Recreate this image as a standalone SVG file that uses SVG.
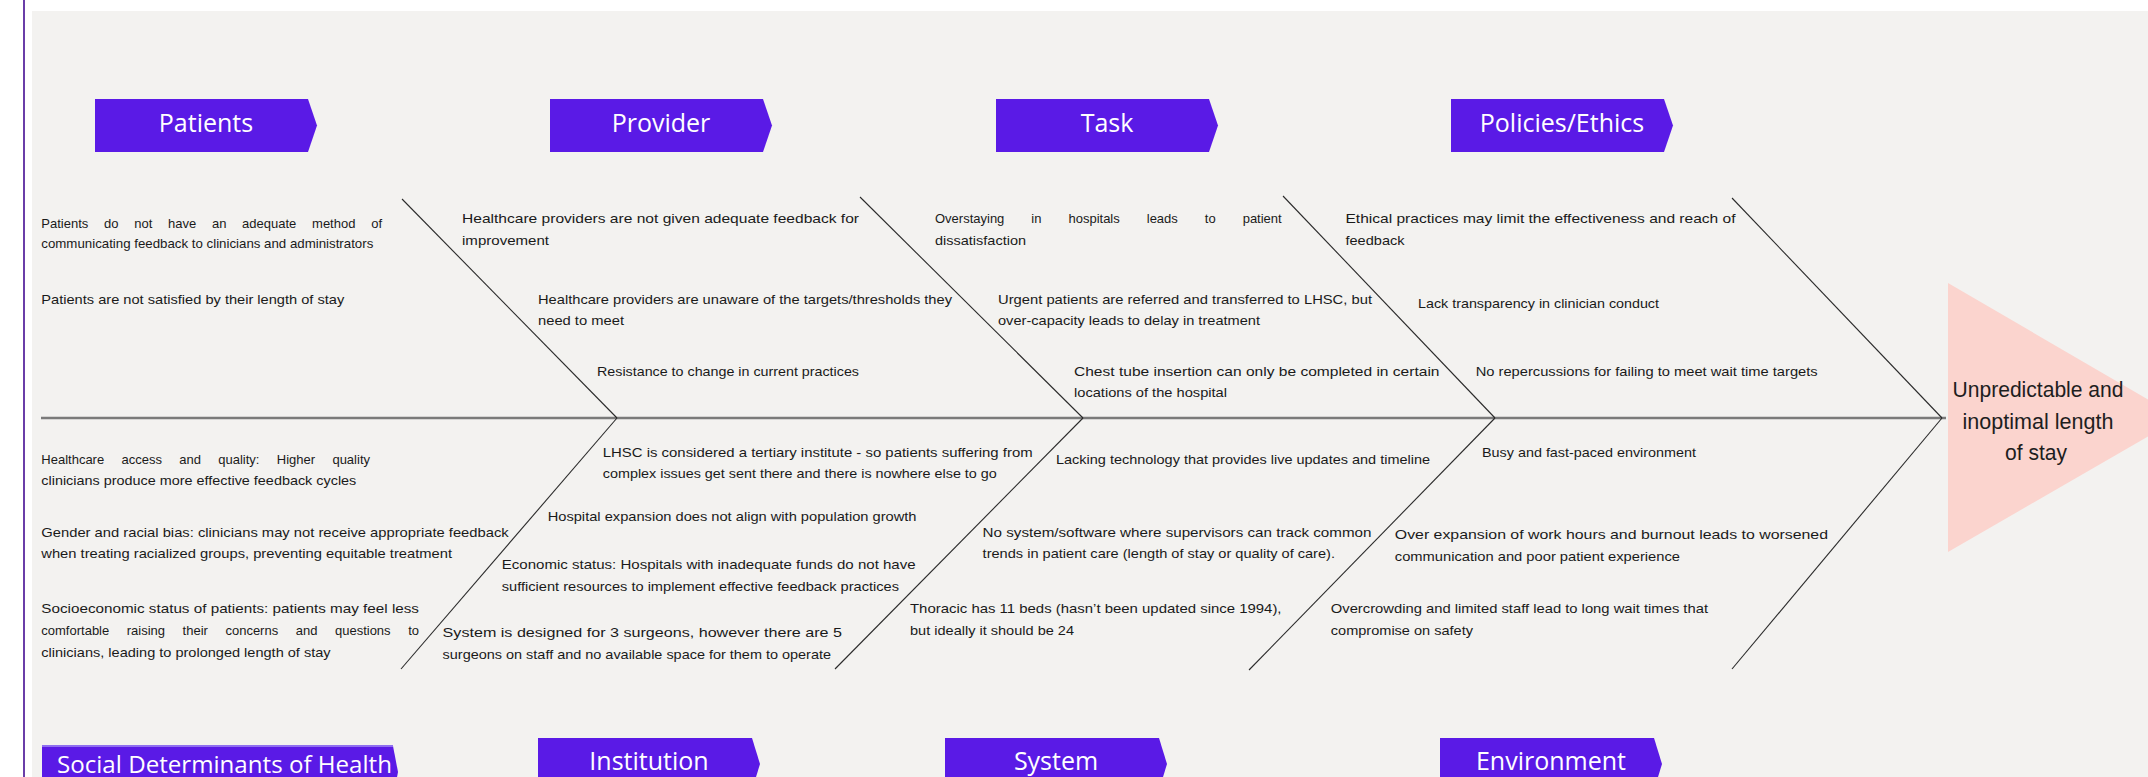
<svg xmlns="http://www.w3.org/2000/svg" width="2148" height="777" viewBox="0 0 2148 777">
<style>
.t{font-family:"Liberation Sans",Arial,sans-serif;font-size:13px;fill:#1a1a1a}
.h{font-family:"Open Sans","Liberation Sans",sans-serif;font-size:25px;fill:#ffffff;text-anchor:middle}
.box{fill:#5a1ae6}
.diag{stroke:#2a2a2a;stroke-width:1.1;fill:none}
.spine{stroke:#7a7a7a;stroke-width:2.4;fill:none}
.eff{font-family:"Liberation Sans",Arial,sans-serif;font-size:22px;fill:#1e1e1e;text-anchor:middle}
</style>
<rect x="0" y="0" width="2148" height="777" fill="#ffffff"/>
<rect x="32" y="11" width="2116" height="766" fill="#f3f2f0"/>
<line x1="24" y1="0" x2="24" y2="777" stroke="#6a3ea8" stroke-width="2"/>

<g id="connectors">
  <line class="spine" x1="41" y1="418" x2="1946" y2="418"/>
  <line class="diag" x1="402" y1="199" x2="617" y2="418"/>
  <line class="diag" x1="860" y1="197" x2="1083" y2="418"/>
  <line class="diag" x1="1283" y1="196" x2="1495" y2="418"/>
  <line class="diag" x1="1732" y1="198" x2="1942" y2="418"/>
  <line class="diag" x1="617" y1="418" x2="401" y2="669"/>
  <line class="diag" x1="1083" y1="418" x2="835" y2="669"/>
  <line class="diag" x1="1495" y1="418" x2="1249" y2="670"/>
  <line class="diag" x1="1942" y1="418" x2="1732" y2="669"/>
</g>

<g id="effect">
  <polygon points="1948,283 2180,418 1948,552" fill="#fbd4ce"/>
  <text class="eff" x="2038" y="397" textLength="171" lengthAdjust="spacingAndGlyphs">Unpredictable and</text>
  <text class="eff" x="2038" y="429" textLength="151" lengthAdjust="spacingAndGlyphs">inoptimal length</text>
  <text class="eff" x="2036" y="460" textLength="62" lengthAdjust="spacingAndGlyphs">of stay</text>
</g>

<g id="cat-patients">
  <polygon class="box" points="95,99 308,99 317,125.5 308,152 95,152"/>
  <text class="h" x="206" y="132">Patients</text>
</g>
<g id="cat-provider">
  <polygon class="box" points="550,99 763,99 772,125.5 763,152 550,152"/>
  <text class="h" x="661" y="132">Provider</text>
</g>
<g id="cat-task">
  <polygon class="box" points="996,99 1209,99 1218,125.5 1209,152 996,152"/>
  <text class="h" x="1107" y="132">Task</text>
</g>
<g id="cat-policies">
  <polygon class="box" points="1451,99 1664,99 1673,125.5 1664,152 1451,152"/>
  <text class="h" x="1562" y="132">Policies/Ethics</text>
</g>
<g id="cat-sdoh">
  <polygon class="box" points="42,746 393,746 398,772 393,798 42,798"/>
  <rect x="42" y="745" width="351" height="2" fill="#8f6ff0"/>
  <text class="h" x="224.5" y="773" style="font-size:24px" textLength="335" lengthAdjust="spacingAndGlyphs">Social Determinants of Health</text>
</g>
<g id="cat-institution">
  <polygon class="box" points="538,738 752,738 760,764 752,790 538,790"/>
  <text class="h" x="649" y="770">Institution</text>
</g>
<g id="cat-system">
  <polygon class="box" points="945,738 1159,738 1167,764 1159,790 945,790"/>
  <text class="h" x="1056" y="770">System</text>
</g>
<g id="cat-environment">
  <polygon class="box" points="1440,738 1654,738 1662,764 1654,790 1440,790"/>
  <text class="h" x="1551" y="770">Environment</text>
</g>

<g id="causes-patients">
  <text class="t" x="41.3" y="228" style="word-spacing:12.1px" textLength="340.7" lengthAdjust="spacing">Patients do not have an adequate method of</text>
  <text class="t" x="41.3" y="248" textLength="332" lengthAdjust="spacingAndGlyphs">communicating feedback to clinicians and administrators</text>
  <text class="t" x="41.3" y="304" textLength="303" lengthAdjust="spacingAndGlyphs">Patients are not satisfied by their length of stay</text>
</g>

<g id="causes-provider">
  <text class="t" x="462" y="223" textLength="397" lengthAdjust="spacingAndGlyphs">Healthcare providers are not given adequate feedback for</text>
  <text class="t" x="462" y="245" textLength="87" lengthAdjust="spacingAndGlyphs">improvement</text>
  <text class="t" x="538" y="304" textLength="414" lengthAdjust="spacingAndGlyphs">Healthcare providers are unaware of the targets/thresholds they</text>
  <text class="t" x="538" y="325" textLength="86" lengthAdjust="spacingAndGlyphs">need to meet</text>
  <text class="t" x="597" y="375.7" textLength="262" lengthAdjust="spacingAndGlyphs">Resistance to change in current practices</text>
</g>

<g id="causes-task">
  <text class="t" x="935" y="223" style="word-spacing:23.4px" textLength="346.7" lengthAdjust="spacing">Overstaying in hospitals leads to patient</text>
  <text class="t" x="935" y="245" textLength="91" lengthAdjust="spacingAndGlyphs">dissatisfaction</text>
  <text class="t" x="998" y="304" textLength="374" lengthAdjust="spacingAndGlyphs">Urgent patients are referred and transferred to LHSC, but</text>
  <text class="t" x="998" y="325" textLength="262" lengthAdjust="spacingAndGlyphs">over-capacity leads to delay in treatment</text>
  <text class="t" x="1074" y="375.7" textLength="365.5" lengthAdjust="spacingAndGlyphs">Chest tube insertion can only be completed in certain</text>
  <text class="t" x="1074" y="396.7" textLength="153" lengthAdjust="spacingAndGlyphs">locations of the hospital</text>
</g>

<g id="causes-policies">
  <text class="t" x="1345.5" y="223" textLength="390" lengthAdjust="spacingAndGlyphs">Ethical practices may limit the effectiveness and reach of</text>
  <text class="t" x="1345.5" y="245" textLength="59" lengthAdjust="spacingAndGlyphs">feedback</text>
  <text class="t" x="1418" y="308" textLength="241" lengthAdjust="spacingAndGlyphs">Lack transparency in clinician conduct</text>
  <text class="t" x="1475.7" y="375.7" textLength="342" lengthAdjust="spacingAndGlyphs">No repercussions for failing to meet wait time targets</text>
</g>

<g id="causes-sdoh">
  <text class="t" x="41.3" y="464" style="word-spacing:13.7px" textLength="328.7" lengthAdjust="spacing">Healthcare access and quality: Higher quality</text>
  <text class="t" x="41.3" y="485" textLength="315" lengthAdjust="spacingAndGlyphs">clinicians produce more effective feedback cycles</text>
  <text class="t" x="41.3" y="537.3" textLength="467.4" lengthAdjust="spacingAndGlyphs">Gender and racial bias: clinicians may not receive appropriate feedback</text>
  <text class="t" x="41.3" y="558" textLength="410.7" lengthAdjust="spacingAndGlyphs">when treating racialized groups, preventing equitable treatment</text>
  <text class="t" x="41.3" y="613.3" textLength="377.7" lengthAdjust="spacingAndGlyphs">Socioeconomic status of patients: patients may feel less</text>
  <text class="t" x="41.3" y="635" style="word-spacing:13.95px" textLength="377.7" lengthAdjust="spacing">comfortable raising their concerns and questions to</text>
  <text class="t" x="41.3" y="656.7" textLength="289.3" lengthAdjust="spacingAndGlyphs">clinicians, leading to prolonged length of stay</text>
</g>

<g id="causes-institution">
  <text class="t" x="602.8" y="456.7" textLength="429.8" lengthAdjust="spacingAndGlyphs">LHSC is considered a tertiary institute - so patients suffering from</text>
  <text class="t" x="602.8" y="478.3" textLength="394" lengthAdjust="spacingAndGlyphs">complex issues get sent there and there is nowhere else to go</text>
  <text class="t" x="547.7" y="520.7" textLength="368.8" lengthAdjust="spacingAndGlyphs">Hospital expansion does not align with population growth</text>
  <text class="t" x="501.8" y="569.3" textLength="413.8" lengthAdjust="spacingAndGlyphs">Economic status: Hospitals with inadequate funds do not have</text>
  <text class="t" x="501.8" y="590.7" textLength="397.2" lengthAdjust="spacingAndGlyphs">sufficient resources to implement effective feedback practices</text>
  <text class="t" x="442.6" y="637.3" textLength="399.4" lengthAdjust="spacingAndGlyphs">System is designed for 3 surgeons, however there are 5</text>
  <text class="t" x="442.6" y="658.7" textLength="388.4" lengthAdjust="spacingAndGlyphs">surgeons on staff and no available space for them to operate</text>
</g>

<g id="causes-system">
  <text class="t" x="1056" y="464" textLength="374" lengthAdjust="spacingAndGlyphs">Lacking technology that provides live updates and timeline</text>
  <text class="t" x="982.6" y="537.3" textLength="388.9" lengthAdjust="spacingAndGlyphs">No system/software where supervisors can track common</text>
  <text class="t" x="982.6" y="558" textLength="352.4" lengthAdjust="spacingAndGlyphs">trends in patient care (length of stay or quality of care).</text>
  <text class="t" x="910" y="613.3" textLength="371.5" lengthAdjust="spacingAndGlyphs">Thoracic has 11 beds (hasn’t been updated since 1994),</text>
  <text class="t" x="910" y="635" textLength="164" lengthAdjust="spacingAndGlyphs">but ideally it should be 24</text>
</g>

<g id="causes-environment">
  <text class="t" x="1482" y="456.7" textLength="214" lengthAdjust="spacingAndGlyphs">Busy and fast-paced environment</text>
  <text class="t" x="1394.8" y="539.3" textLength="433.2" lengthAdjust="spacingAndGlyphs">Over expansion of work hours and burnout leads to worsened</text>
  <text class="t" x="1394.8" y="561" textLength="285.2" lengthAdjust="spacingAndGlyphs">communication and poor patient experience</text>
  <text class="t" x="1330.8" y="613.3" textLength="377.2" lengthAdjust="spacingAndGlyphs">Overcrowding and limited staff lead to long wait times that</text>
  <text class="t" x="1330.8" y="635" textLength="142.2" lengthAdjust="spacingAndGlyphs">compromise on safety</text>
</g>
</svg>
